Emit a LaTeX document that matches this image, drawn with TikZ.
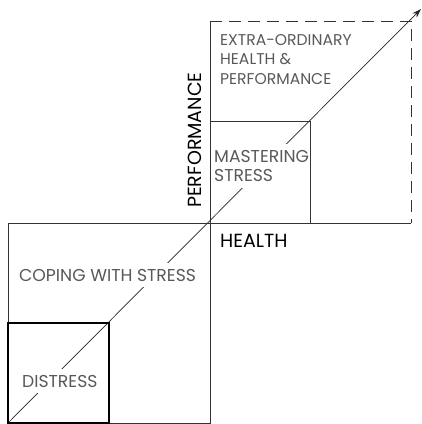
\documentclass[tikz,border=0pt]{standalone}
\usepackage{fontspec}
\setmainfont{Poppins}
\usetikzlibrary{arrows.meta,positioning}
\begin{document}
\begin{tikzpicture}[x=1pt,y=-1pt,
    frame/.style={draw=black!80,line width=0.8pt},
    zone/.style={fill=white,inner xsep=3pt,inner ysep=6pt,text=black!65,
      font=\fontsize{17.2}{19.5}\selectfont,align=left,anchor=north west},
    axislabel/.style={inner sep=0pt,text=black,font=\fontsize{19}{21}\selectfont,anchor=base west}]
  \useasboundingbox (0,0) rectangle (422,424);
  \coordinate (start) at (8,423);
  \coordinate (tip) at (421,9);
  \coordinate (O) at (210,223);
  \draw[black!85,line width=0.7pt,-{Stealth[length=9pt,width=6pt]}] (start) -- (tip);

  \node[zone,fill=none,font=\fontsize{15.6}{19.5}\selectfont] (extra) at (217,28) {EXTRA-ORDINARY\\HEALTH \&\\PERFORMANCE};
  \node[zone] (master) at (211,144) {MASTERING\\STRESS};
  \node[zone] (coping) at (16,263) {COPING WITH STRESS};
  \node[zone] (distress) at (19,369) {DISTRESS};
  \node[axislabel] (health) at (220,247) {HEALTH};
  \node[axislabel,rotate=90] (perf) at (201,208) {PERFORMANCE};

  \draw[frame] (8,223) rectangle (O |- start);
  \draw[frame,black,line width=1.6pt] (8,323) rectangle (109,423);
  \draw[frame] (O) rectangle (310,121);
  \draw[frame] (411,223) -- (O) -- (210,21);
  \draw[frame,dash pattern=on 12pt off 7pt] (210,21) -- (411,21) -- (411,223);
\end{tikzpicture}
\end{document}
